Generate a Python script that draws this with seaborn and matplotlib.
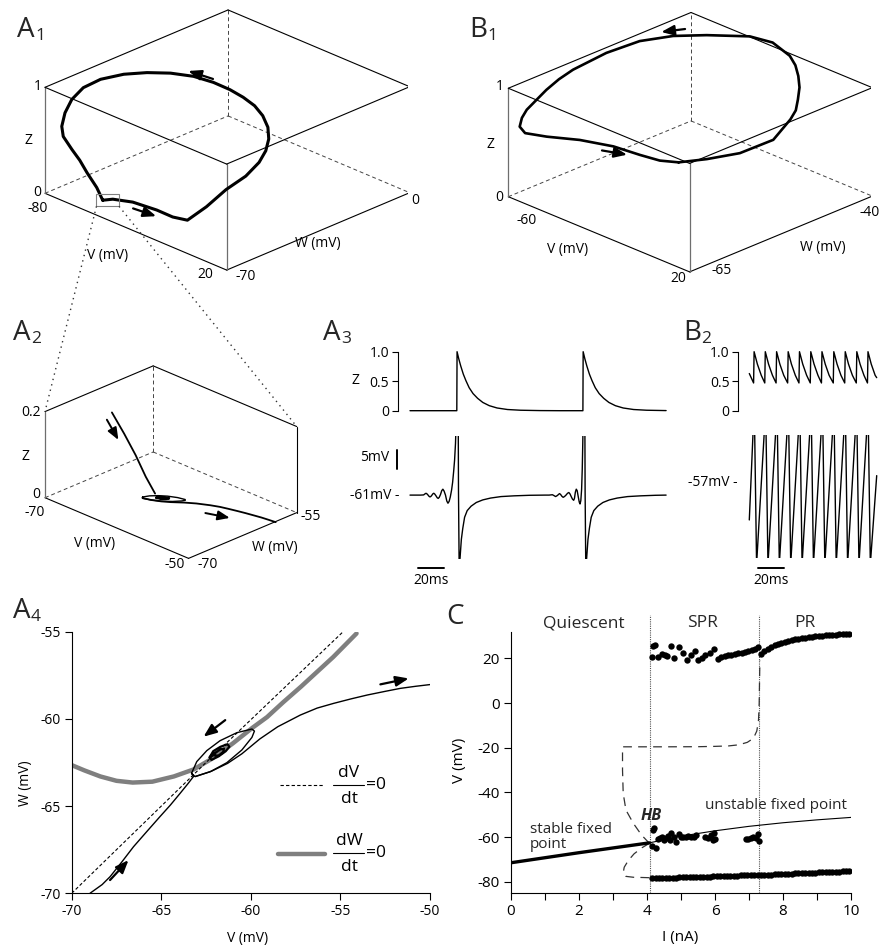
import numpy as np
import matplotlib
matplotlib.use("Agg")
import matplotlib.pyplot as plt
import seaborn as sns
from matplotlib.patches import FancyArrowPatch, Rectangle
from matplotlib.lines import Line2D

# ======================= DATA =======================
# A1: limit cycle in (V, W, Z)
A1_V = [-59.6, -57.5, -50.1, -38.3, -29.4, -21.9, -6.1, 5.4, 12.4, 15.4, 15.2, 11.8, 6.0, -1.6, -11.7, -21.7,
        -31.0, -41.0, -51.8, -61.6, -69.8, -75.8, -78.2, -78.2, -78.5, -77.2, -74.8, -74.7, -71.3, -68.5, -65.9,
        -62.6, -59.6]
A1_W = [-62.1, -59.7, -57.2, -56.2, -56.3, -55.9, -59.6, -60.1, -57.4, -54.4, -51.7, -48.2, -44.5, -41.2, -37.3,
        -34.7, -33.3, -32.7, -32.8, -34.8, -38.1, -42.8, -50.0, -56.6, -60.8, -64.3, -67.2, -66.7, -65.7, -64.7,
        -63.7, -62.3, -62.1]
A1_Z = [0, 0, 0, 0, 0, 0.02, 0.3, 0.55, 0.7, 0.82, 0.9, 0.95, 0.98, 1.0, 0.98, 0.96, 0.95, 0.94, 0.92, 0.9, 0.88,
        0.87, 0.88, 0.87, 0.8, 0.72, 0.64, 0.54, 0.43, 0.34, 0.23, 0.10, 0.0]
A1_ARROWS = [((-39.2, -34.1, 1.0), (-51.2, -35.2, 1.0)), ((-45.9, -60.0, 0.0), (-34.5, -59.1, 0.0))]
A1_ZOOM_CENTER = (-58.4, -61.0, 0.0)

# B1: limit cycle in (V, W, Z)
B1_V = [-17.4, -4.7, 12.0, 23.7, 22.0, 19.5, 14.1, 6.1, -2.2, -10.5, -18.7, -32.9, -43.8, -57.1, -66.2, -72.3,
        -73.7, -75.4, -76.6, -76.6, -76.0, -75.5, -73.8, -70.0, -62.8, -54.0, -42.8, -31.5, -23.3, -17.4]
B1_W = [-57.6, -56.5, -55.8, -53.5, -50.0, -48.3, -46.3, -43.6, -41.3, -39.3, -37.8, -36.5, -37.2, -40.7, -43.8,
        -47.8, -53.2, -58.5, -60.6, -62.8, -66.4, -67.4, -68.3, -68.5, -66.9, -63.8, -61.3, -60.1, -59.1, -57.6]
B1_Z = [0.46, 0.55, 0.7, 0.85, 0.95, 0.98, 1.0, 1.0, 1.0, 1.0, 1.0, 1.0, 1.0, 1.0, 1.0, 1.0, 1.0, 0.95, 0.9, 0.85,
        0.75, 0.7, 0.65, 0.62, 0.6, 0.56, 0.52, 0.49, 0.47, 0.46]
B1_ARROWS = [((-67.6, -41.3, 1.0), (-72.4, -44.0, 1.0)), ((-44.8, -62.7, 0.5), (-34.6, -61.4, 0.5))]

# A2: approach to the fixed point (V, W, Z)
A2_IN_V = [-65.2, -64.4, -63.6, -62.9, -62.3]
A2_IN_W = [-65.5, -64.6, -63.8, -63.1, -62.4]
A2_IN_Z = [0.2, 0.15, 0.10, 0.05, 0.01]
A2_ARROWS = [((-65.7, -65.7, 0.181), (-64.9, -64.9, 0.134)), ((-56.3, -61.4, 0.0), (-53.8, -60.5, 0.0))]

# A4: phase plane (V, W)
NULL_V_V = [-70.0, -62.3, -54.9]
NULL_V_W = [-70.0, -62.3, -55.05]
NULL_W_V = [-70.0, -69.3, -68.4, -67.5, -66.6, -65.5, -64.3, -63.2, -62.2, -61.0, -59.9, -59.1, -58.2,
            -57.2, -56.3, -55.4, -54.1]
NULL_W_W = [-62.65, -62.95, -63.3, -63.55, -63.65, -63.6, -63.3, -62.9, -62.3, -61.4, -60.5, -59.9, -59.05,
            -58.15, -57.3, -56.45, -55.1]
TRAJ_IN_V = [-68.98, -68.3, -67.86, -67.2, -66.55, -65.8, -65.07, -64.5, -63.95, -63.5, -63.2]
TRAJ_IN_W = [-70.0, -69.5, -69.05, -68.2, -67.33, -66.45, -65.6, -64.95, -64.27, -63.7, -63.3]
LOOP_V = [-63.2, -63.31, -63.02, -62.46, -61.72, -60.78, -59.94, -59.8, -59.94, -60.5, -61.34, -62.27, -63.11, -63.31]
LOOP_W = [-63.3, -63.12, -62.45, -61.82, -61.25, -60.79, -60.58, -60.7, -61.06, -61.78, -62.51, -63.03, -63.31, -63.12]
INNER_V = [-62.3, -62.1, -61.7, -61.3, -61.2, -61.4, -61.8, -62.2, -62.3, -62.0, -61.7, -61.5, -61.55, -61.8, -62.05, -62.0]
INNER_W = [-62.2, -61.85, -61.6, -61.45, -61.6, -61.85, -62.15, -62.35, -62.2, -61.95, -61.75, -61.7, -61.9, -62.1, -62.1, -61.95]
OUT_V = [-63.1, -62.2, -61.3, -60.5, -59.5, -58.5, -57.24, -56.3, -55.38, -54.4, -53.5, -52.5, -51.66, -50.8, -49.9]
OUT_W = [-63.3, -63.0, -62.55, -62.0, -61.15, -60.45, -59.78, -59.38, -59.11, -58.85, -58.63, -58.42, -58.25, -58.13, -58.02]
A4_ARROWS = [((-67.86, -69.24), (-66.83, -68.1)), ((-61.43, -60.07), (-62.64, -61.02)), ((-52.77, -58.02), (-51.19, -57.68))]

# A3: time traces (ms)
A3_ZT = [0, 36, 36.2, 37.5, 39, 41, 43, 45.5, 48.5, 52, 56, 61, 67, 75, 85, 100, 115,
         133, 133.2, 134.5, 136, 138, 140, 142.5, 145.5, 149, 153, 158, 164, 172, 182, 197]
A3_Z = [0, 0, 1.0, 0.88, 0.76, 0.62, 0.51, 0.39, 0.29, 0.21, 0.14, 0.085, 0.046, 0.02, 0.008, 0.002, 0,
        0, 1.0, 0.88, 0.76, 0.62, 0.51, 0.39, 0.29, 0.21, 0.14, 0.085, 0.046, 0.02, 0.008, 0.002]
A3_VT = [0, 8, 10.5, 11.6, 12.3, 13.0, 13.9, 14.7, 15.4, 16.1, 16.9, 17.6, 18.3, 19.0, 20.0, 20.9, 21.7, 22.5,
         23.5, 24.4, 25.3, 26.2, 27.3, 28.3, 29.2, 30.1, 31.0, 32.0, 32.8, 33.6, 34.3, 35.0, 35.6, 36.0, 36.4,
         36.8, 37.3, 37.8, 38.5, 39.5, 40.6, 42, 44, 47, 51, 56, 62, 70, 80, 92, 104,
         107, 109.5, 110.6, 112, 113.4, 114.3, 115, 115.8, 116.8, 117.8, 118.8, 120, 121.2, 122.2, 123.1, 124,
         125, 125.9, 126.5, 127.2, 127.9, 128.6, 129.4, 130.2, 130.8, 131.4, 132.0, 132.5, 132.9, 133.2, 133.4,
         133.8, 134.2, 134.7, 135.2, 135.9, 136.9, 138, 139.4, 141.4, 144.4, 148.4, 153.4, 159.4, 167.4, 177.4,
         189, 197]
A3_V = [-61.0, -61.0, -60.95, -60.65, -60.5, -60.65, -61.0, -61.35, -61.5, -61.35, -61.0, -60.65, -60.5, -60.7,
        -61.2, -61.7, -61.9, -61.6, -60.8, -59.8, -59.4, -59.9, -61.0, -62.6, -63.2, -62.7, -61.5, -59.6, -57.5,
        -54.5, -51.5, -47.0, -40.0, 0, 25,
        -10, -60, -80, -78, -73, -70, -67, -65.2, -64.0, -63.0, -62.3, -61.8, -61.4, -61.2, -61.05, -61.0,
        -61.0, -60.9, -61.1, -61.4, -61.1, -60.8, -60.6, -60.8, -61.3, -61.6, -61.4, -61.0, -60.5, -60.3, -60.7, -61.4,
        -62.1, -62.4, -61.9, -60.2, -59.4, -59.8, -61.4, -62.9, -63.4, -62.5, -59.5, -54.0, -47.0, -40.0, 0,
        25, -10, -60, -80, -78, -73, -70, -67, -65.2, -64.0, -63.0, -62.3, -61.8, -61.4, -61.2,
        -61.05, -61.0]

# B2: time traces (ms)
B2_ZT = [0, 3.3, 3.7, 6.2, 9.2, 11.9, 12.3, 14.8, 17.8, 20.6, 21.0, 23.5, 26.5, 29.5, 29.9, 32.4, 35.4, 38.2,
         38.6, 41.1, 44.1, 46.9, 47.3, 49.8, 52.8, 55.5, 55.9, 58.4, 61.4, 64.6, 65.0, 67.5, 70.5, 73.4,
         73.8, 76.3, 79.3, 82.3, 82.7, 85.2, 88.2, 90.9, 91.3, 93.8, 96.8, 98.0]
B2_Z = [0.63, 0.47, 1.0, 0.79, 0.60, 0.47, 1.0, 0.79, 0.60, 0.47, 1.0, 0.79, 0.60, 0.47, 1.0, 0.79, 0.60, 0.47,
        1.0, 0.79, 0.60, 0.47, 1.0, 0.79, 0.60, 0.47, 1.0, 0.79, 0.60, 0.47, 1.0, 0.79, 0.60, 0.47,
        1.0, 0.79, 0.60, 0.47, 1.0, 0.79, 0.60, 0.47, 1.0, 0.79, 0.60, 0.56]
B2_VT = [0, 3.3, 3.6, 4.0, 5.6, 12.05, 12.35, 12.75, 14.35, 20.8, 21.1, 21.5, 23.1, 29.55, 29.85, 30.25, 31.85,
         38.3, 38.6, 39.0, 40.6, 47.05, 47.35, 47.75, 49.35, 55.8, 56.1, 56.5, 58.1, 64.55, 64.85, 65.25, 66.85,
         73.3, 73.6, 74.0, 75.6, 82.05, 82.35, 82.75, 84.35, 90.8, 91.1, 91.5, 93.1, 98.0]
B2_V = [-67, -40, 20, -40, -79, -40, 20, -40, -79, -40, 20, -40, -79, -40, 20, -40, -79,
        -40, 20, -40, -79, -40, 20, -40, -79, -40, 20, -40, -79, -40, 20, -40, -79,
        -40, 20, -40, -79, -40, 20, -40, -79, -40, 20, -40, -79, -55]

# C: bifurcation diagram
C_BOT_I = [4.15, 4.25, 4.35, 4.45, 4.55, 4.65, 4.75, 4.85, 4.95, 5.05, 5.15, 5.25, 5.35, 5.45, 5.55, 5.65, 5.75,
           5.85, 5.95, 6.05, 6.15, 6.25, 6.35, 6.45, 6.55, 6.65, 6.75, 6.85, 6.95, 7.05, 7.15, 7.25, 7.35, 7.45,
           7.55, 7.65, 7.75, 7.85, 7.95, 8.05, 8.15, 8.25, 8.35, 8.45, 8.55, 8.65, 8.75, 8.85, 8.95, 9.05, 9.15,
           9.25, 9.35, 9.45, 9.55, 9.65, 9.75, 9.85, 9.95]
C_BOT_V = [-78.5, -78.5, -78.4, -78.4, -78.3, -78.3, -78.2, -78.2, -78.1, -78.1, -78.0, -78.0, -77.9, -77.9, -77.8,
           -77.8, -77.7, -77.7, -77.6, -77.6, -77.5, -77.5, -77.4, -77.4, -77.3, -77.3, -77.2, -77.2, -77.1, -77.1,
           -77.0, -77.0, -76.9, -76.9, -76.8, -76.8, -76.7, -76.6, -76.6, -76.5, -76.4, -76.4, -76.3, -76.2, -76.2,
           -76.1, -76.0, -76.0, -75.9, -75.8, -75.8, -75.7, -75.6, -75.6, -75.5, -75.5, -75.4, -75.4, -75.3]
C_PR_I = [7.35, 7.45, 7.55, 7.65, 7.75, 7.85, 7.95, 8.05, 8.15, 8.25, 8.35, 8.45, 8.55, 8.65, 8.75, 8.85, 8.95,
          9.05, 9.15, 9.25, 9.35, 9.45, 9.55, 9.65, 9.75, 9.85, 9.95]
C_PR_V = [22.0, 23.3, 24.3, 25.1, 25.8, 26.4, 26.9, 27.4, 27.8, 28.2, 28.5, 28.8, 29.0, 29.3, 29.5, 29.7, 29.9,
          30.0, 30.2, 30.3, 30.4, 30.5, 30.6, 30.7, 30.8, 30.85, 30.9]
C_SPR_TOP_I = [4.14, 4.19, 4.24, 4.33, 4.45, 4.52, 4.58, 4.70, 4.80, 4.95, 5.05, 5.17, 5.28, 5.40, 5.51, 5.61,
               5.72, 5.84, 5.97, 6.08, 6.18, 6.28, 6.38, 6.48, 6.58, 6.68, 6.78, 6.88, 6.98, 7.08, 7.18, 7.27]
C_SPR_TOP_V = [20.8, 25.5, 26.2, 20.7, 21.9, 21.5, 21.0, 25.6, 20.1, 25.0, 22.5, 19.3, 21.6, 23.3, 19.4, 20.3,
               21.4, 22.6, 24.4, 19.6, 20.6, 21.0, 21.4, 21.7, 22.0, 22.3, 22.6, 22.9, 23.3, 23.7, 24.3, 25.3]
C_SPR_MID_I = [4.14, 4.19, 4.22, 4.27, 4.32, 4.38, 4.45, 4.50, 4.56, 4.62, 4.68, 4.72, 4.80, 4.86, 4.93, 5.00,
               5.07, 5.15, 5.22, 5.30, 5.38, 5.45, 5.72, 5.80, 5.87, 5.93, 5.97, 6.00, 6.90, 6.98, 7.05, 7.12,
               7.20, 7.26, 7.28]
C_SPR_MID_V = [-64.0, -56.9, -56.1, -65.0, -61.0, -60.5, -59.9, -61.5, -60.4, -59.5, -61.4, -58.0, -59.8, -62.1,
               -58.5, -60.0, -59.8, -59.9, -59.6, -60.0, -59.8, -59.2, -59.8, -60.2, -59.3, -61.3, -58.2, -60.7,
               -61.0, -60.7, -60.4, -59.9, -60.5, -58.5, -61.8]
STABLE_I = [0, 2, 4.07]
STABLE_V = [-71.5, -67.0, -62.6]
UNSTABLE_I = [4.07, 5, 6, 7, 8, 9, 10]
UNSTABLE_V = [-62.6, -59.6, -57.2, -55.2, -53.6, -52.3, -51.2]
UPO_MAX_I = [4.07, 3.84, 3.6, 3.38, 3.30, 3.28, 3.28, 3.6, 4.5, 5.5, 6.0, 6.4, 6.7, 6.95, 7.13, 7.23, 7.28,
             7.30, 7.31, 7.32]
UPO_MAX_V = [-62.8, -59.1, -53.9, -47.9, -40.4, -30.0, -19.6, -19.6, -19.6, -19.55, -19.4, -19.2, -18.7, -17.6,
             -15.8, -12.5, -7.6, 0.0, 10.0, 19.0]
UPO_MIN_I = [4.07, 3.85, 3.62, 3.45, 3.33, 3.30, 3.38, 3.6, 3.85, 4.07]
UPO_MIN_V = [-62.8, -64.8, -67.5, -70.5, -73.5, -76.0, -77.6, -78.0, -78.1, -78.2]
REGION_BOUNDS = [4.08, 7.30]
REGION_NAMES = ["Quiescent", "SPR", "PR"]
REGION_CENTERS = [2.13, 5.63, 8.63]

# ======================= STYLE =======================
sns.set_theme(style="ticks")
plt.rcParams["font.family"] = ["Open Sans", "DejaVu Sans"]
plt.rcParams.update({
    "axes.unicode_minus": False,
    "axes.linewidth": 0.8,
    "axes.edgecolor": "black",
    "xtick.color": "black", "ytick.color": "black",
    "xtick.major.width": 0.8, "ytick.major.width": 0.8, "xtick.minor.width": 0.8,
})

W_PX, H_PX = 890, 947
fig = plt.figure(figsize=(W_PX / 100, H_PX / 100), dpi=100)
fig.patch.set_facecolor("white")


def fbox(x0, y0, x1, y1):
    return [x0 / W_PX, 1 - y1 / H_PX, (x1 - x0) / W_PX, (y1 - y0) / H_PX]


def ftext(x, y, s, **kw):
    kw.setdefault("ha", "center")
    kw.setdefault("va", "center")
    kw.setdefault("fontsize", 10)
    return fig.text(x / W_PX, 1 - y / H_PX, s, color="black", **kw)


def letter(x, y, L, sub):
    t = fig.text(x / W_PX, 1 - y / H_PX, L, fontsize=20, ha="left", va="baseline")
    if sub:
        r = fig.canvas.get_renderer()
        x1 = t.get_window_extent(r).x1
        fig.text((x1 + 0.5) / W_PX, 1 - (y + 3) / H_PX, sub, fontsize=12.5, ha="left", va="baseline")


# ======================= 3D PANELS =======================
def make3d(center, elev, aspect):
    cx, cy = center
    half = 160
    ax = fig.add_axes(fbox(cx - half, cy - half, cx + half, cy + half), projection="3d",
                      proj_type="ortho", computed_zorder=False)
    ax.view_init(elev=elev, azim=-45)
    ax.set_box_aspect(aspect)
    ax.set_axis_off()
    ax.set_facecolor((1, 1, 1, 0))
    return ax


def box3d(ax, xl, yl, zl, top_front=True, front_vert=True):
    x0, x1 = xl
    y0, y1 = yl
    z0, z1 = zl
    solid = dict(color="black", lw=0.8)
    gray = dict(color="#6e6e6e", lw=0.9)
    dash = dict(color="#444444", lw=0.7, linestyle=(0, (4, 3)))
    ax.plot([x0, x0], [y0, y1], [z0, z0], **dash)
    ax.plot([x0, x1], [y1, y1], [z0, z0], **dash)
    ax.plot([x0, x0], [y1, y1], [z0, z1], **dash)
    ax.plot([x0, x1], [y0, y0], [z0, z0], **solid)
    ax.plot([x1, x1], [y0, y1], [z0, z0], **solid)
    ax.plot([x0, x0], [y0, y0], [z0, z1], **gray)
    ax.plot([x1, x1], [y1, y1], [z0, z1], **solid)
    if front_vert:
        ax.plot([x1, x1], [y0, y0], [z0, z1], **gray)
    ax.plot([x0, x0], [y0, y1], [z1, z1], **solid)
    ax.plot([x0, x1], [y1, y1], [z1, z1], **solid)
    if top_front:
        ax.plot([x0, x1], [y0, y0], [z1, z1], **solid)
        ax.plot([x1, x1], [y0, y1], [z1, z1], **solid)
    ax.set_xlim(*xl)
    ax.set_ylim(*yl)
    ax.set_zlim(*zl)


def proj_px(ax, xs, ys, zs):
    xs = np.asarray(xs, float)
    ys = np.asarray(ys, float)
    zs = np.asarray(zs, float)
    vec = np.vstack([xs, ys, zs, np.ones_like(xs)])
    v = ax.M @ vec
    x2, y2 = v[0] / v[3], v[1] / v[3]
    return ax.transData.transform(np.column_stack([x2, y2]))


def fit3d(ax, pA, pB, tA, tB):
    tA = np.array([tA[0], H_PX - tA[1]], float)
    tB = np.array([tB[0], H_PX - tB[1]], float)
    for _ in range(3):
        fig.canvas.draw()
        a, b = proj_px(ax, *zip(pA, pB))
        s = np.linalg.norm(tB - tA) / np.linalg.norm(b - a)
        bb = ax.get_position(original=True)
        x0, y0, w, h = bb.x0 * W_PX, bb.y0 * H_PX, bb.width * W_PX, bb.height * H_PX
        c = np.array([x0 + w / 2, y0 + h / 2])
        a2 = c + s * (a - c)
        c2 = c + (tA - a2)
        w2 = w * s
        ax.set_position([(c2[0] - w2 / 2) / W_PX, (c2[1] - w2 / 2) / H_PX, w2 / W_PX, w2 / H_PX])


def arrow_fig(p_tail, p_head, ms=14, lw=1.6):
    fig.add_artist(FancyArrowPatch(p_tail / [W_PX, H_PX], p_head / [W_PX, H_PX], transform=fig.transFigure,
                                   arrowstyle="-|>,head_length=0.55,head_width=0.22", mutation_scale=ms,
                                   lw=lw, color="black", shrinkA=0, shrinkB=0))


# A1
A1_LIM = ((-80, 20), (-70, 0), (0, 1))
axA1 = make3d((227, 140), 25, (257, 259, 117))
box3d(axA1, *A1_LIM)
axA1.plot(A1_V, A1_W, A1_Z, color="black", lw=2.2, solid_joinstyle="round", solid_capstyle="round")

# B1
B1_LIM = ((-77.4, 27.3), (-69.2, -37.3), (0, 1))
axB1 = make3d((690, 140), 24.5, (256, 258, 119))
box3d(axB1, *B1_LIM)
axB1.plot(B1_V, B1_W, B1_Z, color="black", lw=1.9, solid_joinstyle="round")

# A2
A2_LIM = ((-70, -50), (-70, -55), (0, 0.2))
axA2 = make3d((170, 460), 25, (203, 153, 95))
box3d(axA2, *A2_LIM, top_front=False, front_vert=False)
axA2.plot(A2_IN_V, A2_IN_W, A2_IN_Z, color="black", lw=1.3)
axA2.plot(LOOP_V, LOOP_W, np.zeros(len(LOOP_V)), color="black", lw=1.0)
axA2.plot(INNER_V, INNER_W, np.zeros(len(INNER_V)), color="black", lw=1.6)
axA2.plot(OUT_V, OUT_W, np.zeros(len(OUT_V)), color="black", lw=1.3)

fit3d(axA1, (-80, -70, 0), (20, 0, 0), (45, 193.3), (409.7, 193.3))
fit3d(axB1, (-77.4, -69.2, 0), (27.3, -37.3, 0), (508.3, 196.7), (872.3, 196.7))
fit3d(axA2, (-70, -70, 0), (-50, -55, 0), (45, 497.7), (296.7, 513.3))
fig.canvas.draw()

for tail, head in A1_ARROWS:
    pts = proj_px(axA1, *zip(tail, head))
    arrow_fig(pts[0], pts[1])
for tail, head in B1_ARROWS:
    pts = proj_px(axB1, *zip(tail, head))
    arrow_fig(pts[0], pts[1])
for tail, head in A2_ARROWS:
    pts = proj_px(axA2, *zip(tail, head))
    arrow_fig(pts[0], pts[1], ms=13, lw=1.4)

# zoom rectangle in A1 and dotted connectors to A2
zc = proj_px(axA1, [A1_ZOOM_CENTER[0]], [A1_ZOOM_CENTER[1]], [A1_ZOOM_CENTER[2]])[0]
hw, hh = 11.3, 6.4
fig.add_artist(Rectangle(((zc[0] - hw) / W_PX, (zc[1] - hh) / H_PX), 2 * hw / W_PX, 2 * hh / H_PX,
                         transform=fig.transFigure, fill=False, edgecolor="#808080", lw=0.8))
c_left = proj_px(axA2, [-70], [-70], [0.2])[0]
c_right = proj_px(axA2, [-50], [-55], [0.2])[0]
for (sx, tgt) in [(zc[0] - hw, c_left), (zc[0] + hw, c_right)]:
    fig.add_artist(Line2D([sx / W_PX, tgt[0] / W_PX], [(zc[1] - hh) / H_PX, tgt[1] / H_PX],
                          transform=fig.transFigure, color="#333333", lw=1.0, linestyle=(0, (1, 3))))

# 3D labels
for s, x, y in [("1", 38, 87), ("Z", 28, 140), ("0", 37, 192), ("-80", 38, 208), ("V (mV)", 108, 255),
                ("20", 205, 274), ("-70", 246, 276), ("W (mV)", 318, 243), ("0", 415, 200)]:
    ftext(x, y, s)
for s, x, y in [("1", 500, 87), ("Z", 490, 145), ("0", 499, 197), ("-60", 527, 220), ("V (mV)", 568, 249),
                ("20", 678, 278), ("-65", 722, 271), ("W (mV)", 823, 248), ("-40", 870, 213)]:
    ftext(x, y, s)
for s, x, y in [("0.2", 31, 413), ("Z", 25, 456), ("0", 36, 494), ("-70", 35, 512), ("V (mV)", 95, 543),
                ("-50", 175, 565), ("-70", 208, 565), ("W (mV)", 275, 547), ("-55", 311, 516)]:
    ftext(x, y, s)

# ======================= A3 / B2 TRACES =======================
PXMS = 1.3


def trace_axes(x_spine, x_t0, x_right, zt, z, vt, v, vlim, v_top_px, v_bot_px):
    xl = (-(x_t0 - x_spine) / PXMS, (x_right - x_t0) / PXMS)
    axz = fig.add_axes(fbox(x_spine, 351.7, x_right, 410.7))
    sns.lineplot(x=zt, y=z, ax=axz, color="black", lw=1.0, sort=False, estimator=None)
    for ln in axz.lines:
        ln.set_clip_on(False)
    axz.set_xlim(*xl)
    axz.set_ylim(0, 1)
    for sp in ["top", "right", "bottom"]:
        axz.spines[sp].set_visible(False)
    axz.set_xticks([])
    axz.set_yticks([0, 0.5, 1.0])
    axz.set_yticklabels(["0", "0.5", "1.0"])
    axz.tick_params(axis="y", direction="out", length=4, width=0.8, labelsize=10, pad=2)
    axz.set_xlabel("")
    axz.set_ylabel("")
    axz.patch.set_alpha(0)
    axv = fig.add_axes(fbox(x_spine, v_top_px, x_right, v_bot_px))
    sns.lineplot(x=vt, y=v, ax=axv, color="black", lw=1.0, sort=False, estimator=None)
    axv.set_xlim(*xl)
    axv.set_ylim(*vlim)
    axv.axis("off")
    return axz, axv


axA3z, axA3v = trace_axes(397.7, 410, 672, A3_ZT, A3_Z, A3_VT, A3_V, (-78.3, -45.0), 436, 559)
axB2z, axB2v = trace_axes(738, 749.3, 882, B2_ZT, B2_Z, B2_VT, B2_V, (-77.3, -44.0), 435, 558)

# scale bars
axA3v.plot([-10, -10], [-53.8, -48.8], color="black", lw=1.4, clip_on=False)
axA3v.plot([6.2, 26.2], [-80.7, -80.7], color="black", lw=1.4, clip_on=False)
axB2v.plot([6.5, 26.5], [-80.0, -80.0], color="black", lw=1.4, clip_on=False)
ftext(389, 457, "5mV", ha="right")
ftext(399, 495, "-61mV -", ha="right")
ftext(431, 580, "20ms")
ftext(738, 482, "-57mV -", ha="right")
ftext(771, 580, "20ms")
ftext(355, 380, "Z")

# ======================= A4 PHASE PLANE =======================
axA4 = fig.add_axes(fbox(71.7, 631.7, 430, 893.3))
sns.lineplot(x=NULL_W_V, y=NULL_W_W, ax=axA4, color="#7f7f7f", lw=3.2, sort=False, estimator=None)
sns.lineplot(x=NULL_V_V, y=NULL_V_W, ax=axA4, color="black", lw=0.8, sort=False, estimator=None)
axA4.lines[-1].set_linestyle((0, (3, 2)))
for xs, ys, lw in [(TRAJ_IN_V, TRAJ_IN_W, 1.0), (LOOP_V, LOOP_W, 1.0), (INNER_V, INNER_W, 1.6), (OUT_V, OUT_W, 1.0)]:
    sns.lineplot(x=xs, y=ys, ax=axA4, color="black", lw=lw, sort=False, estimator=None)
for tail, head in A4_ARROWS:
    axA4.annotate("", xy=head, xytext=tail,
                  arrowprops=dict(arrowstyle="-|>,head_length=0.55,head_width=0.22", mutation_scale=14,
                                  lw=1.6, color="black", shrinkA=0, shrinkB=0))
axA4.set_xlim(-70, -50)
axA4.set_ylim(-70, -55)
axA4.set_xticks([-70, -65, -60, -55, -50])
axA4.set_yticks([-70, -65, -60, -55])
axA4.spines["top"].set_visible(False)
axA4.spines["right"].set_visible(False)
axA4.tick_params(direction="out", length=5, width=0.8, labelsize=10, pad=3)
axA4.set_xlabel("")
axA4.set_ylabel("")
axA4.patch.set_alpha(0)
# legend (line samples + stacked fractions)
axA4.plot([0.581, 0.701], [0.414, 0.414], transform=axA4.transAxes, color="black", lw=0.8, linestyle=(0, (3, 2)))
axA4.plot([0.575, 0.706], [0.150, 0.150], transform=axA4.transAxes, color="#7f7f7f", lw=3.2)
for num, ybar in [("dV", 785), ("dW", 853)]:
    ftext(349, ybar - 12, num, fontsize=12.5)
    ftext(349, ybar + 14, "dt", fontsize=12.5)
    fig.add_artist(Line2D([333 / W_PX, 364 / W_PX], [1 - ybar / H_PX, 1 - ybar / H_PX],
                          transform=fig.transFigure, color="black", lw=0.8))
    ftext(366, ybar, "=0", fontsize=12.5, ha="left")
ftext(248, 938, "V (mV)")
ftext(25, 783, "W (mV)", rotation=90)

# ======================= C BIFURCATION =======================
axC = fig.add_axes(fbox(511, 614.8, 851, 892.9))
for xb in REGION_BOUNDS:
    axC.axvline(xb, color="#555555", lw=0.8, linestyle=(0, (1, 1)))
sns.lineplot(x=UPO_MAX_I, y=UPO_MAX_V, ax=axC, color="#333333", lw=0.9, sort=False, estimator=None)
axC.lines[-1].set_linestyle((0, (7, 5)))
sns.lineplot(x=UPO_MIN_I, y=UPO_MIN_V, ax=axC, color="#333333", lw=0.9, sort=False, estimator=None)
axC.lines[-1].set_linestyle((0, (7, 5)))
sns.lineplot(x=STABLE_I, y=STABLE_V, ax=axC, color="black", lw=2.4, sort=False, estimator=None)
sns.lineplot(x=UNSTABLE_I, y=UNSTABLE_V, ax=axC, color="black", lw=0.8, sort=False, estimator=None)
for xs, ys in [(C_BOT_I, C_BOT_V), (C_PR_I, C_PR_V), (C_SPR_TOP_I, C_SPR_TOP_V), (C_SPR_MID_I, C_SPR_MID_V)]:
    sns.scatterplot(x=xs, y=ys, ax=axC, color="black", s=21, linewidth=0, legend=False, zorder=3)
axC.set_xlim(0, 10)
axC.set_ylim(-85, 39.5)
axC.spines["top"].set_visible(False)
axC.spines["right"].set_visible(False)
axC.spines["left"].set_bounds(-85, 32)
axC.set_xticks([0, 2, 4, 6, 8, 10])
axC.set_xticks([1, 3, 5, 7, 9], minor=True)
axC.set_yticks([-80, -60, -40, -20, 0, 20])
axC.tick_params(which="both", direction="out", length=5, width=0.8, labelsize=11, pad=3)
axC.set_xlabel("")
axC.set_ylabel("")
axC.patch.set_alpha(0)
for name, xc in zip(REGION_NAMES, REGION_CENTERS):
    axC.text(xc, 35.7, name, fontsize=12.5, ha="center", va="center")
axC.text(7.78, -45.7, "unstable fixed point", fontsize=11, ha="center", va="center")
axC.text(0.56, -56.6, "stable fixed", fontsize=11, ha="left", va="center")
axC.text(0.56, -63.2, "point", fontsize=11, ha="left", va="center")
axC.text(4.12, -50.6, "HB", fontsize=11.5, ha="center", va="center", fontweight="bold", fontstyle="italic")
ftext(680, 937, "I (nA)", fontsize=11)
ftext(459, 760, "V (mV)", fontsize=11, rotation=90)

# ======================= PANEL LETTERS =======================
letter(17, 37, "A", "1")
letter(469, 37, "B", "1")
letter(13, 340, "A", "2")
letter(323, 340, "A", "3")
letter(683, 340, "B", "2")
letter(13, 618, "A", "4")
letter(446, 624, "C", "")

fig.savefig("out.png", dpi=100, facecolor="white")
